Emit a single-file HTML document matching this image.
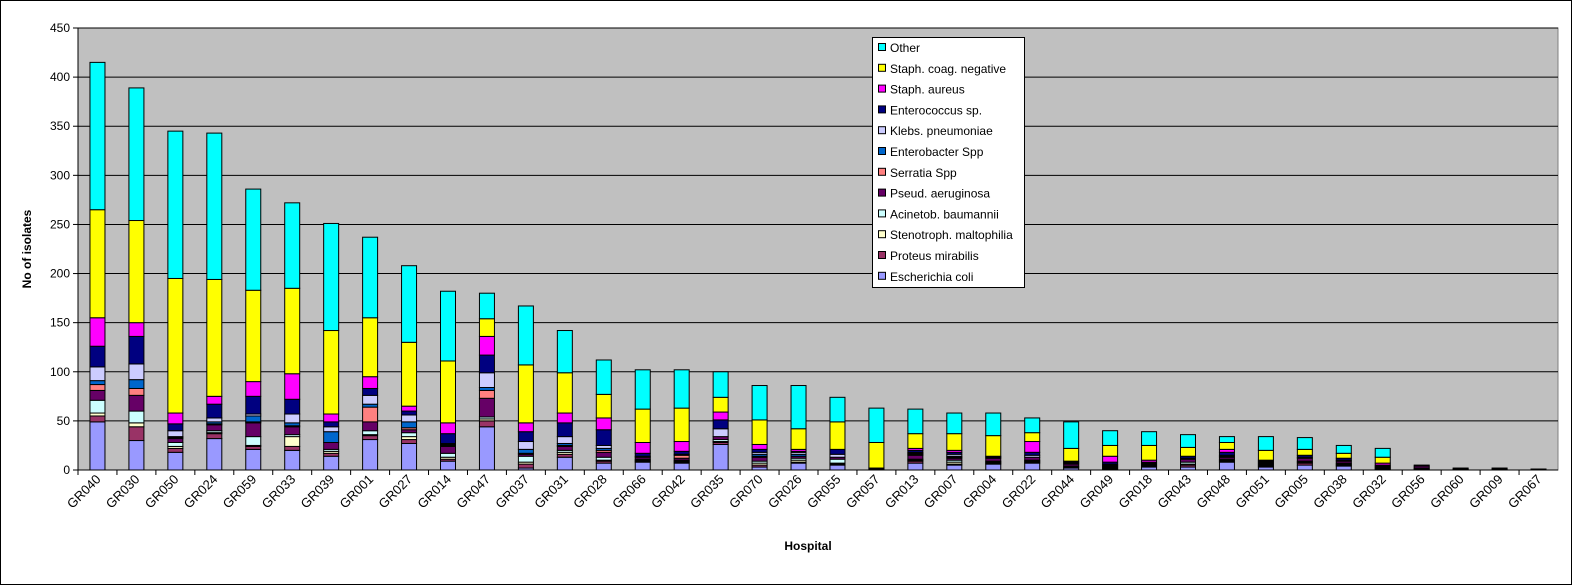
<!DOCTYPE html>
<html><head><meta charset="utf-8"><style>
body{margin:0;background:#fff;}
svg{display:block;font-family:"Liberation Sans",Arial,sans-serif;}
</style></head><body>
<svg id="chart" width="1572" height="585" viewBox="0 0 1572 585">
<rect x="0.5" y="0.5" width="1571" height="584" fill="#fff" stroke="#000"/>
<rect x="78" y="28" width="1480" height="442" fill="#C0C0C0" stroke="#808080"/>
<g id="grid"></g><g id="bars"></g><g id="axes"></g>
<text transform="translate(31,249) rotate(-90)" text-anchor="middle" font-size="12" font-weight="bold">No of isolates</text>
<text x="808" y="550" text-anchor="middle" font-size="12" font-weight="bold">Hospital</text>
<g id="legend"></g>
</svg>
<script>
const categories=["GR040","GR030","GR050","GR024","GR059","GR033","GR039","GR001","GR027","GR014","GR047","GR037","GR031","GR028","GR066","GR042","GR035","GR070","GR026","GR055","GR057","GR013","GR007","GR004","GR022","GR044","GR049","GR018","GR043","GR048","GR051","GR005","GR038","GR032","GR056","GR060","GR009","GR067"];
const seriesNames=["Escherichia coli","Proteus mirabilis","Stenotroph. maltophilia","Acinetob. baumannii","Pseud. aeruginosa","Serratia Spp","Enterobacter Spp","Klebs. pneumoniae","Enterococcus sp.","Staph. aureus","Staph. coag. negative","Other"];
const seriesColors=["#9999FF","#993366","#FFFFCC","#CCFFFF","#660066","#FF8080","#0066CC","#CCCCFF","#000080","#FF00FF","#FFFF00","#00FFFF"];
const ecoli=[49,30,18,32,21,20,14,31,27,9,44,2,13,7,8,7,26,3,7,5,0,7,5,6,7,2,1,3,3,8,3,5,4,1,0,1,0,0];
const proteus=[6,14,4,5,3,4,3,4,4,2,6,4,3,2,1,1,2,2,1,1,0,2,1,1,1,1,1,1,2,1,1,2,1,1,1,0,1,0];
const steno=[3,4,2,1,1,10,2,1,3,2,2,2,2,1,1,1,1,2,2,1,0,1,2,1,1,0,1,1,1,1,1,1,1,0,0,0,0,0];
const acinet=[13,12,4,2,9,2,2,4,4,4,2,6,2,3,1,1,2,2,2,4,0,1,2,1,1,1,1,1,2,1,1,1,1,1,1,0,0,0];
const pseud=[10,16,4,6,14,8,7,9,3,7,19,2,4,5,2,2,3,4,2,2,1,4,2,3,3,2,1,1,3,2,1,3,2,1,2,1,1,1];
const serratia=[6,7,1,1,1,1,0,15,2,1,8,1,1,2,0,3,0,1,0,0,0,1,1,0,0,0,0,0,0,0,0,0,0,0,0,0,0,0];
const enterob=[4,9,1,2,6,3,11,3,6,1,3,4,2,2,0,1,0,2,2,0,0,1,1,0,0,0,0,0,0,1,0,0,0,0,0,0,0,0];
const klebs=[14,16,6,4,2,9,5,9,7,1,15,8,7,3,1,0,8,2,2,3,0,1,2,1,2,1,1,0,1,1,1,1,1,0,0,0,0,0];
const enteroc=[21,28,7,14,18,15,5,7,4,10,18,10,14,16,3,3,9,3,1,5,1,2,2,1,3,1,2,1,2,3,1,2,2,1,1,0,0,0];
const saureus=[29,14,11,8,15,26,8,12,5,11,19,9,10,12,11,10,8,5,2,0,0,2,2,0,11,1,6,2,0,3,1,0,0,2,0,0,0,0];
const cons=[110,104,137,119,93,87,85,60,65,63,18,59,41,24,34,34,15,25,21,28,26,15,17,21,9,13,11,15,9,7,10,6,5,6,0,0,0,0];
const other=[150,135,150,149,103,87,109,82,78,71,26,60,43,35,40,39,26,35,44,25,35,25,21,23,15,27,15,14,13,6,14,12,8,9,0,0,0,0];
const yTicks=[0,50,100,150,200,250,300,350,400,450];
const series=[ecoli,proteus,steno,acinet,pseud,serratia,enterob,klebs,enteroc,saureus,cons,other];

const NS="http://www.w3.org/2000/svg";
const X0=78,X1=1558,Y0=470,Y1=28,YMAX=450;
const bandW=(X1-X0)/categories.length;
const yScale=v=>Y0-(v/YMAX)*(Y0-Y1);
const xCenter=i=>X0+(i+0.5)*bandW;
function mk(tag,attrs,parent){const e=document.createElementNS(NS,tag);for(const k in attrs)e.setAttribute(k,attrs[k]);parent.appendChild(e);return e;}
const grid=document.getElementById('grid'),bars=document.getElementById('bars'),axes=document.getElementById('axes'),legend=document.getElementById('legend');
yTicks.forEach(t=>{
  const y=yScale(t);
  if(t>0){const g=mk('line',{x1:X0,x2:X1,y1:y,y2:y,stroke:'#000','stroke-width':1},grid);
  
  }
  const tk=mk('line',{x1:X0-5,x2:X0,y1:y,y2:y,stroke:'#000'},axes);
  
  
  const tx=mk('text',{x:X0-8,y:y+4,'text-anchor':'end','font-size':12},axes);
  tx.textContent=t;
  
  
});
mk('line',{x1:X0,x2:X0,y1:Y1,y2:Y0,stroke:'#000'},axes);
mk('line',{x1:X0,x2:X1,y1:Y0,y2:Y0,stroke:'#000'},axes);
const BW=15;
categories.forEach((c,i)=>{
  let acc=0;const cx=xCenter(i);
  series.forEach((s,si)=>{
    const v=s[i];if(v<=0)return;
    const yt=yScale(acc+v),yb=yScale(acc);acc+=v;
    const r=mk('rect',{x:cx-BW/2,y:yt,width:BW,height:Math.max(yb-yt,0.5),fill:seriesColors[si],stroke:'#000','stroke-width':1},bars);
    
    
  });
  const tk=mk('line',{x1:X0+i*bandW,x2:X0+i*bandW,y1:Y0,y2:Y0+5,stroke:'#000'},axes);
  
  
  const lx=cx+4,ly=Y0+10;
  const tx=mk('text',{x:lx,y:ly,'text-anchor':'end','font-size':13,transform:'rotate(-45 '+lx+' '+ly+')'},axes);
  tx.textContent=c;
  
  
});
const lb=mk('rect',{x:872.5,y:37.5,width:152,height:250,fill:'#fff',stroke:'#000'},legend);


for(let k=0;k<12;k++){
  const si=11-k;const y=48+k*20.8;
  const sw=mk('rect',{x:878.5,y:y-4.5,width:7,height:7,fill:seriesColors[si],stroke:'#000'},legend);
  
  
  const t=mk('text',{x:890,y:y+4,'font-size':12},legend);
  t.textContent=seriesNames[si];
  
  
}
</script>
</body></html>
